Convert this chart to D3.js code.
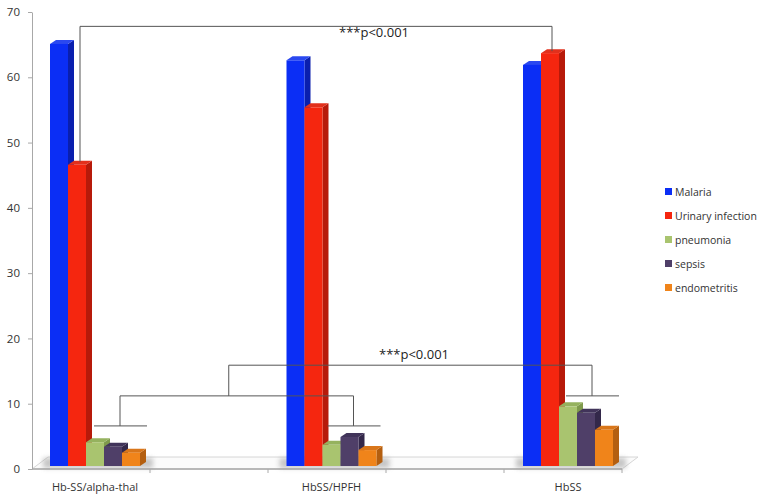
<!DOCTYPE html>
<html>
<head>
<meta charset="utf-8">
<script src="https://cdn.jsdelivr.net/npm/d3@7"></script>
<style>
  body { margin: 0; background: #fff; }
  text { font-family: "Open Sans", sans-serif; }
</style>
</head>
<body>
<div id="chart"></div>
<script>
// data
let categories = ["Hb-SS/alpha-thal", "HbSS/HPFH", "HbSS"];
let series = ["Malaria", "Urinary infection", "pneumonia", "sepsis", "endometritis"];
let malaria = [65.1, 62.6, 61.9];
let urinary = [46.6, 55.4, 63.7];
let pneumonia = [4.1, 3.7, 9.6];
let sepsis = [3.4, 4.9, 8.6];
let endometritis = [2.5, 2.9, 6.0];
let yTicks = [0, 10, 20, 30, 40, 50, 60, 70];
let pLabel = "***p<0.001";

let values = [malaria, urinary, pneumonia, sepsis, endometritis];
let front = ["#0b2ef5", "#f5260f", "#a9c46f", "#4f3f68", "#f0841a"];
let side = ["#0a1fae", "#b71a0a", "#7f9a4c", "#33284a", "#b45f10"];
let topc = ["#2a48f0", "#e2301c", "#95b25e", "#41345a", "#d9761a"];

let width = 768, height = 501;
let svg = d3.select("#chart").append("svg")
    .attr("width", width).attr("height", height);

let y = d3.scaleLinear().domain([0, 70]).range([469, 12]);
let xGroup = d3.scalePoint().domain(categories).range([95, 568]);
let xInner = d3.scaleBand().domain(series).range([-45, 45]).paddingInner(0);
let dx = 6, dy = 4, lift = 3;

// blur for floor shadows
let defs = svg.append("defs");
defs.append("filter").attr("id", "blur").attr("x", "-30%").attr("y", "-100%")
    .attr("width", "160%").attr("height", "300%")
    .append("feGaussianBlur").attr("stdDeviation", 2.5);

// floor
let x0 = 32, x1 = 622;
svg.append("path")
    .attr("d", `M${x0},${y(0)}L${x1},${y(0)}L${x1 + 16},${y(0) - 12}L${x0 + 16},${y(0) - 12}Z`)
    .attr("fill", "#fbfbfb").attr("stroke", "#d6d6d6");
svg.append("line").attr("x1", x0).attr("x2", x1).attr("y1", y(0)).attr("y2", y(0))
    .attr("stroke", "#b8b8b8").attr("stroke-width", 2);
[1, 2, 3, 4, 5].forEach(k => {
    let xt = x0 + (x1 - x0) * k / 5;
    svg.append("line").attr("x1", xt).attr("x2", xt).attr("y1", y(0)).attr("y2", y(0) + 4)
        .attr("stroke", "#aaa");
});

// shadows under groups
categories.forEach(c => {
    svg.append("rect")
        .attr("x", xGroup(c) - 52).attr("y", y(0) - 11)
        .attr("width", 110).attr("height", 10)
        .attr("fill", "#9a9a9a").attr("opacity", 0.55)
        .attr("filter", "url(#blur)");
});

// y axis
let yAxis = svg.append("g").attr("transform", "translate(32,0)")
    .call(d3.axisLeft(y).tickValues(yTicks).tickSize(4).tickPadding(8).tickSizeOuter(0));
yAxis.select(".domain").attr("stroke", "#a8a8a8");
yAxis.selectAll(".tick line").attr("stroke", "#a8a8a8");
yAxis.selectAll("text").attr("font-size", 11.5).attr("fill", "#333")
    .style("font-family", "'Open Sans', sans-serif");

// 3d bars
categories.forEach((c, ci) => {
    series.forEach((s, si) => {
        let v = values[si][ci];
        let bx = xGroup(c) + xInner(s), bw = xInner.bandwidth();
        let yt = y(v), yb = y(0) - lift;
        let g = svg.append("g");
        g.append("path")
            .attr("d", `M${bx + bw},${yt}L${bx + bw + dx},${yt - dy}L${bx + bw + dx},${yb - dy}L${bx + bw},${yb}Z`)
            .attr("fill", side[si]);
        g.append("path")
            .attr("d", `M${bx},${yt}L${bx + dx},${yt - dy}L${bx + bw + dx},${yt - dy}L${bx + bw},${yt}Z`)
            .attr("fill", topc[si]);
        g.append("rect").attr("x", bx).attr("y", yt).attr("width", bw).attr("height", yb - yt)
            .attr("fill", front[si]);
    });
});

// x labels
svg.selectAll(".cat").data(categories).enter().append("text")
    .attr("x", d => xGroup(d)).attr("y", 491)
    .attr("text-anchor", "middle").attr("font-size", 11).attr("fill", "#333")
    .text(d => d);

// significance brackets
let br = svg.append("g").attr("fill", "none").attr("stroke", "#555").attr("stroke-width", 1);
let gx = c => xGroup(c);
let redTop = xGroup(categories[0]) + xInner(series[1]) + xInner.bandwidth() / 2 + 3;
br.append("path").attr("d",
    `M${redTop},${y(urinary[0]) - 3}V${y(67.8)}H${xGroup(categories[2]) - 16}V${y(64)}`);
// small group brackets
let sm = [gx(categories[0]) + 25, gx(categories[1]) + 22, gx(categories[2]) + 24];
let smY = [y(6.6), y(6.6), y(11.2)];
sm.forEach((cx, i) => {
    br.append("path").attr("d", `M${cx - 26},${smY[i]}H${cx + 27}`);
});
let midY = y(11.2);
br.append("path").attr("d", `M${sm[0]},${smY[0]}V${midY}H${sm[1]}V${smY[1]}`);
let mid = (sm[0] + sm[1]) / 2 - 8;
let hiY = y(15.9);
br.append("path").attr("d", `M${mid},${midY}V${hiY}H${sm[2]}V${smY[2]}`);

svg.append("text").attr("x", 374).attr("y", y(67.8) + 11).attr("text-anchor", "middle")
    .attr("font-size", 13).attr("fill", "#222").text(pLabel);
svg.append("text").attr("x", 414).attr("y", hiY - 6).attr("text-anchor", "middle")
    .attr("font-size", 13).attr("fill", "#222").text(pLabel);

// legend
let leg = svg.append("g").attr("transform", "translate(665,188)");
series.forEach((s, i) => {
    let r = leg.append("g").attr("transform", `translate(0,${i * 24})`);
    r.append("rect").attr("width", 7).attr("height", 7).attr("fill", front[i]);
    r.append("text").attr("x", 10).attr("y", 7.5).attr("font-size", 10.5)
        .attr("fill", "#333").text(s);
});
</script>
</body>
</html>
